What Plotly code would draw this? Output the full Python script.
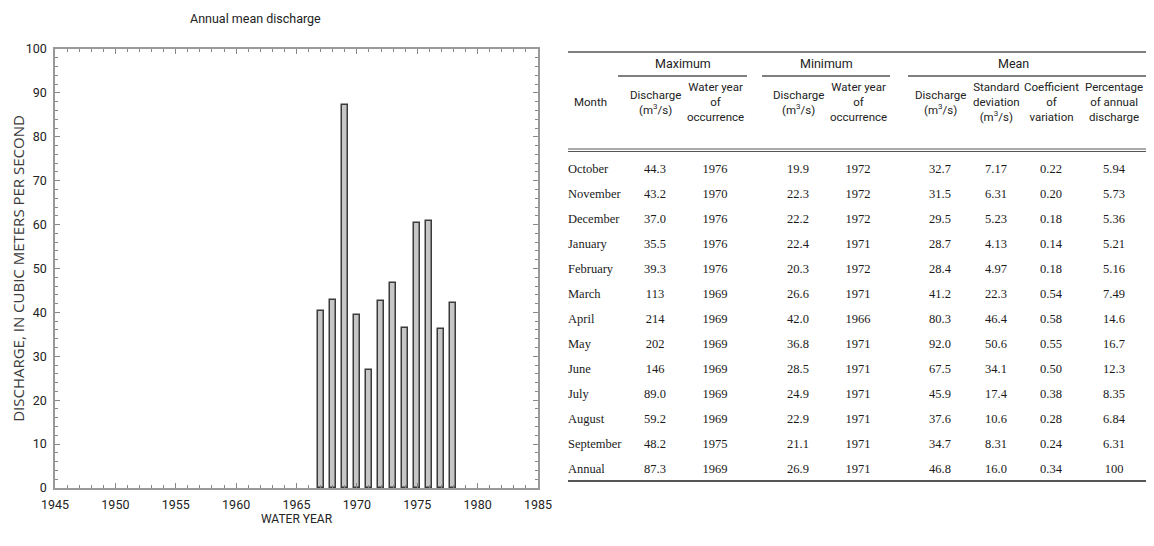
import plotly.graph_objects as go

# ---------------- data ----------------
years = [1967, 1968, 1969, 1970, 1971, 1972, 1973, 1974, 1975, 1976, 1977, 1978]
annual_mean = [40.3, 42.9, 87.3, 39.4, 26.9, 42.6, 46.7, 36.5, 60.3, 60.8, 36.2, 42.2]

months = ["October", "November", "December", "January", "February", "March", "April",
          "May", "June", "July", "August", "September", "Annual"]
max_discharge = ["44.3", "43.2", "37.0", "35.5", "39.3", "113", "214", "202", "146", "89.0", "59.2", "48.2", "87.3"]
max_year = ["1976", "1970", "1976", "1976", "1976", "1969", "1969", "1969", "1969", "1969", "1969", "1975", "1969"]
min_discharge = ["19.9", "22.3", "22.2", "22.4", "20.3", "26.6", "42.0", "36.8", "28.5", "24.9", "22.9", "21.1", "26.9"]
min_year = ["1972", "1972", "1972", "1971", "1972", "1971", "1966", "1971", "1971", "1971", "1971", "1971", "1971"]
mean_discharge = ["32.7", "31.5", "29.5", "28.7", "28.4", "41.2", "80.3", "92.0", "67.5", "45.9", "37.6", "34.7", "46.8"]
std_dev = ["7.17", "6.31", "5.23", "4.13", "4.97", "22.3", "46.4", "50.6", "34.1", "17.4", "10.6", "8.31", "16.0"]
coef_var = ["0.22", "0.20", "0.18", "0.14", "0.18", "0.54", "0.58", "0.55", "0.50", "0.38", "0.28", "0.24", "0.34"]
pct_annual = ["5.94", "5.73", "5.36", "5.21", "5.16", "7.49", "14.6", "16.7", "12.3", "8.35", "6.84", "6.31", "100"]

group_headers = ["Maximum", "Minimum", "Mean"]
col_headers = ["Month", "Discharge<br>(m<sup>3</sup>/s)", "Water year<br>of<br>occurrence",
               "Discharge<br>(m<sup>3</sup>/s)", "Water year<br>of<br>occurrence",
               "Discharge<br>(m<sup>3</sup>/s)", "Standard<br>deviation<br>(m<sup>3</sup>/s)",
               "Coefficient<br>of<br>variation", "Percentage<br>of annual<br>discharge"]

# ---------------- layout constants (page pixels) ----------------
PAGE_W, PAGE_H = 1154, 546
OFF = 8  # default body margin of the html page
W, H = PAGE_W - OFF, PAGE_H - OFF
NARROW = "Roboto, Liberation Sans Narrow, sans-serif"
SERIF = "Liberation Serif, Times New Roman, serif"

col_x = [568, 655, 715, 798, 858, 940, 996, 1051, 1114]  # month col is left aligned
group_span = [(618, 747), (762, 890), (908, 1154)]
group_center = [683, 826, 1013]
row_y0, row_step = 170, 25

plot_left, plot_right, plot_top, plot_bottom = 55, 538, 49, 488

fig = go.Figure()

fig.add_trace(go.Bar(
    x=years, y=annual_mean, width=0.5,
    marker=dict(color="#c6c6c6", line=dict(color="#3a3a3a", width=1.5)),
    xaxis="x", yaxis="y", showlegend=False, hoverinfo="x+y",
))

row_ys = [row_y0 + row_step * i for i in range(len(months))]
columns = [months, max_discharge, max_year, min_discharge, min_year,
           mean_discharge, std_dev, coef_var, pct_annual]
for ci, col in enumerate(columns):
    fig.add_trace(go.Scatter(
        x=[col_x[ci]] * len(col), y=row_ys, text=col, mode="text",
        textposition="middle right" if ci == 0 else "middle center",
        textfont=dict(family=SERIF, size=12.5, color="#1a1a1a"),
        xaxis="x2", yaxis="y2", showlegend=False, hoverinfo="skip",
    ))

shapes = []
shapes.append(dict(type="line", xref="x2", yref="y2", x0=568, x1=1154, y0=52, y1=52,
                   line=dict(color="#555", width=1.5)))
for (a, b) in group_span:
    shapes.append(dict(type="line", xref="x2", yref="y2", x0=a, x1=b, y0=76, y1=76,
                       line=dict(color="#555", width=1.5)))
shapes.append(dict(type="line", xref="x2", yref="y2", x0=568, x1=1154, y0=149, y1=149,
                   line=dict(color="#555", width=1.2)))
shapes.append(dict(type="line", xref="x2", yref="y2", x0=568, x1=1154, y0=151.5, y1=151.5,
                   line=dict(color="#555", width=1.2)))
shapes.append(dict(type="line", xref="x2", yref="y2", x0=568, x1=1154, y0=481, y1=481,
                   line=dict(color="#555", width=1.8)))

annotations = []
for gi, g in enumerate(group_headers):
    annotations.append(dict(x=group_center[gi], y=63, xref="x2", yref="y2",
                            text=g, showarrow=False,
                            font=dict(family=NARROW, size=12.5, color="#222")))
for ci, h in enumerate(col_headers):
    x = 590 if ci == 0 else col_x[ci]
    annotations.append(dict(x=x, y=102, xref="x2", yref="y2", text=h, showarrow=False,
                            font=dict(family=NARROW, size=11.5, color="#222"),
                            align="center"))

annotations.append(dict(x=255, y=18, xref="x2", yref="y2", text="Annual mean discharge",
                        showarrow=False, font=dict(family=NARROW, size=12.5, color="#222")))

fig.update_layout(
    width=W, height=H, autosize=False,
    margin=dict(l=0, r=0, t=0, b=0, pad=0),
    paper_bgcolor="white", plot_bgcolor="rgba(0,0,0,0)",
    bargap=0,
    xaxis=dict(
        domain=[(plot_left - OFF) / W, (plot_right - OFF) / W], anchor="y",
        range=[1945, 1985], automargin=False,
        tick0=1945, dtick=5, ticks="inside", ticklen=5, tickcolor="#888", tickwidth=1,
        minor=dict(dtick=1, ticks="inside", ticklen=3, tickcolor="#888"),
        showline=True, linecolor="#999", linewidth=1.5, mirror="ticks",
        showgrid=False, zeroline=False, ticklabelstandoff=4,
        tickfont=dict(family=NARROW, size=12.5, color="#222"),
        title=dict(text="WATER YEAR", font=dict(family=NARROW, size=12, color="#222"), standoff=4),
    ),
    yaxis=dict(
        domain=[(PAGE_H - plot_bottom) / H, (PAGE_H - plot_top) / H], anchor="x",
        range=[0, 100], automargin=False,
        dtick=10, ticks="inside", ticklen=5, tickcolor="#888", tickwidth=1,
        minor=dict(dtick=2, ticks="inside", ticklen=3, tickcolor="#888"),
        showline=True, linecolor="#999", linewidth=1.5, mirror="ticks",
        showgrid=False, zeroline=False, ticklabelstandoff=4,
        tickfont=dict(family=NARROW, size=12.5, color="#222"),
        title=dict(text="DISCHARGE, IN CUBIC METERS PER SECOND",
                   font=dict(family="Open Sans, sans-serif", size=15, color="#3a3a3a"), standoff=9),
    ),
    xaxis2=dict(domain=[0, 1], anchor="y2", range=[OFF, PAGE_W], visible=False, fixedrange=True),
    yaxis2=dict(domain=[0, 1], anchor="x2", range=[PAGE_H, OFF], visible=False, fixedrange=True),
    shapes=shapes,
    annotations=annotations,
)

fig.write_html("out.html")
